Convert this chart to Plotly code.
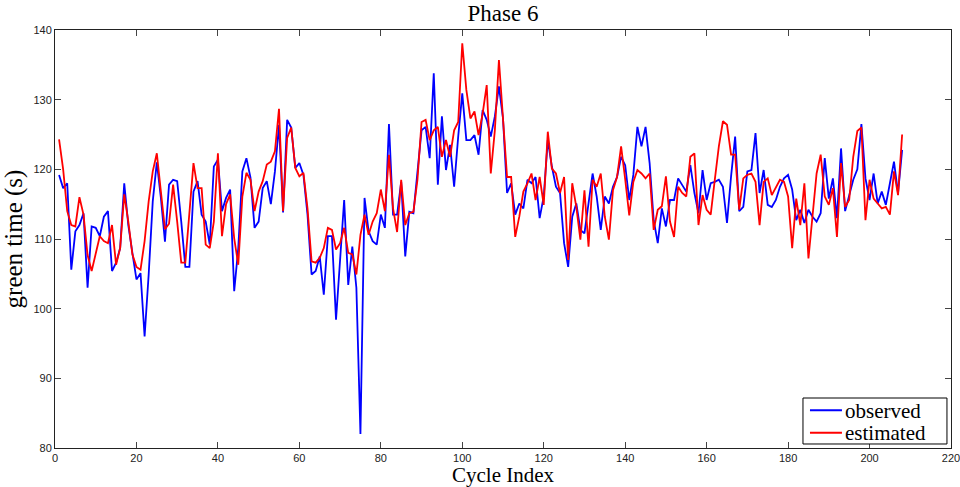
import plotly.graph_objects as go

cycle_index = list(range(1, 209))

observed = [
    119.2, 117.3, 118.0, 105.6, 111.1, 112.0, 113.7, 103.0, 111.8, 111.6,
    110.4, 113.2, 114.0, 105.4, 106.6, 108.7, 118.0, 112.0, 108.0, 104.2,
    105.1, 96.0, 104.9, 115.4, 121.0, 115.9, 109.6, 117.8, 118.5, 118.3,
    112.5, 106.0, 106.0, 116.8, 118.3, 113.5, 112.5, 109.2, 120.4, 121.4,
    114.0, 115.9, 117.1, 102.5, 108.7, 119.7, 121.6, 118.8, 111.6, 112.5,
    117.3, 118.3, 115.0, 119.7, 126.4, 113.8, 127.1, 126.0, 120.2, 120.9,
    119.2, 113.5, 104.9, 105.4, 107.5, 102.0, 110.4, 110.4, 98.4, 107.3,
    115.6, 103.4, 108.9, 103.0, 82.0, 115.9, 111.1, 109.7, 109.2, 113.5,
    111.6, 126.5, 113.5, 113.5, 118.2, 107.5, 113.9, 113.7, 119.9, 125.6,
    126.1, 121.6, 133.8, 117.8, 127.6, 119.9, 123.5, 117.5, 124.7, 130.9,
    124.2, 124.2, 124.9, 122.1, 128.5, 127.1, 124.7, 127.6, 131.9, 127.3,
    116.6, 118.0, 113.5, 115.1, 114.4, 118.5, 118.0, 118.9, 113.0, 116.1,
    124.2, 120.4, 117.5, 116.6, 109.4, 106.0, 113.2, 115.1, 111.3, 110.8,
    115.1, 119.4, 116.1, 111.3, 116.1, 115.1, 117.5, 118.9, 121.8, 120.6,
    115.6, 119.2, 126.1, 123.3, 126.1, 120.9, 112.7, 109.4, 114.4, 111.8,
    115.6, 115.6, 118.7, 117.8, 116.8, 120.6, 116.6, 113.7, 119.9, 115.6,
    118.0, 118.2, 118.5, 117.5, 112.3, 119.0, 124.7, 114.0, 114.6, 119.7,
    119.9, 125.2, 116.6, 119.9, 114.9, 114.6, 115.6, 117.5, 118.7, 119.2,
    117.1, 112.7, 114.2, 112.3, 114.2, 113.2, 112.5, 113.7, 121.6, 115.8,
    118.7, 113.0, 123.0, 114.0, 116.1, 118.5, 120.0, 126.5, 118.7, 115.6,
    119.4, 115.1, 116.8, 114.9, 118.0, 121.1, 116.6, 122.8,
]

estimated = [
    124.3, 120.0, 114.0, 112.0, 111.8, 116.0, 113.5, 107.7, 105.4, 108.0,
    110.4, 109.7, 109.4, 112.0, 106.3, 108.7, 116.4, 112.5, 107.8, 106.0,
    105.6, 109.7, 115.4, 119.7, 122.3, 116.8, 111.4, 112.2, 117.8, 112.5,
    106.6, 106.6, 113.5, 120.9, 117.3, 117.3, 109.2, 108.7, 112.5, 122.3,
    110.4, 115.0, 116.4, 110.1, 106.3, 116.1, 119.5, 118.5, 114.0, 116.8,
    118.3, 120.7, 121.1, 122.6, 128.7, 114.0, 124.5, 126.0, 120.2, 119.0,
    119.5, 114.4, 106.8, 106.6, 107.3, 108.7, 111.6, 111.3, 108.5, 109.4,
    111.6, 108.0, 107.8, 104.9, 110.6, 113.5, 110.6, 112.5, 113.7, 117.1,
    114.0, 122.1, 114.4, 111.0, 118.5, 112.0, 113.7, 113.9, 118.5, 126.8,
    127.1, 124.2, 125.6, 126.1, 121.8, 124.2, 121.8, 125.6, 126.8, 138.1,
    131.4, 127.3, 128.3, 124.9, 128.0, 132.1, 119.4, 125.6, 135.7, 127.8,
    118.9, 118.9, 110.3, 113.2, 116.8, 118.0, 119.4, 115.6, 118.9, 114.9,
    125.4, 120.1, 119.4, 116.6, 118.9, 107.0, 118.0, 114.6, 109.9, 117.0,
    108.9, 118.5, 117.5, 119.4, 113.2, 109.9, 117.0, 118.9, 123.3, 118.6,
    113.4, 118.2, 119.9, 119.4, 118.7, 119.4, 111.3, 114.2, 114.7, 119.0,
    112.5, 110.3, 117.5, 116.6, 116.1, 121.8, 122.3, 112.0, 116.3, 114.2,
    113.5, 118.5, 123.3, 126.9, 126.4, 122.1, 122.1, 114.2, 118.7, 119.2,
    119.4, 118.2, 112.0, 118.2, 118.7, 116.3, 117.5, 118.5, 118.2, 116.1,
    108.7, 115.8, 112.0, 118.0, 107.2, 113.7, 119.4, 122.1, 116.1, 114.9,
    117.3, 110.3, 120.9, 114.6, 115.6, 121.8, 125.5, 126.0, 112.7, 118.5,
    115.8, 115.1, 114.4, 114.6, 113.5, 119.7, 116.3, 125.0,
]

series_names = ["observed", "estimated"]
series_colors = ["#0000ff", "#ff0000"]

x_ticks = [0, 20, 40, 60, 80, 100, 120, 140, 160, 180, 200, 220]
y_ticks = [80, 90, 100, 110, 120, 130, 140]

serif = "Liberation Serif, Times New Roman, serif"
sans = "Liberation Sans, Arial, sans-serif"

fig = go.Figure()
for name, vals, col in zip(series_names, [observed, estimated], series_colors):
    fig.add_trace(go.Scatter(x=cycle_index, y=vals, mode="lines", name=name,
                             line=dict(color=col, width=1.8), showlegend=False))

# MATLAB-style legend box (bottom right, inside axes), drawn in paper coords
lg_x0, lg_x1, lg_y0, lg_y1 = 0.8348, 0.9955, 0.0096, 0.1196
line_x0, line_x1, text_x = 0.8426, 0.8783, 0.8805
row_y = [0.0905, 0.0365]
fig.add_shape(type="rect", xref="paper", yref="paper", x0=lg_x0, x1=lg_x1,
              y0=lg_y0, y1=lg_y1, fillcolor="white", line=dict(color="black", width=1),
              layer="above")
for name, col, ry in zip(series_names, series_colors, row_y):
    fig.add_shape(type="line", xref="paper", yref="paper", x0=line_x0, x1=line_x1,
                  y0=ry, y1=ry, line=dict(color=col, width=2), layer="above")
    fig.add_annotation(xref="paper", yref="paper", x=text_x, y=ry, xanchor="left",
                       yanchor="middle", text=name, showarrow=False,
                       height=19, valign="middle", borderpad=0,
                       font=dict(family=serif, size=21, color="black"))

fig.update_layout(
    template="none",
    width=960, height=487,
    margin=dict(l=55, r=9, t=30, b=39, autoexpand=False),
    paper_bgcolor="white", plot_bgcolor="white",
    title=dict(text="Phase 6", x=0.524, xanchor="center", y=0.973, yanchor="middle",
               font=dict(family=serif, size=23, color="black")),
    showlegend=False,
)
fig.update_xaxes(range=[0, 220], tickvals=x_ticks, ticks="inside", ticklen=6,
                 mirror="ticks", showline=True, linecolor="#222", linewidth=1,
                 showgrid=False, zeroline=False, automargin=False,
                 ticklabeloverflow="allow",
                 tickfont=dict(family=sans, size=11, color="#222"),
                 title=dict(text="Cycle Index", standoff=9,
                            font=dict(family=serif, size=21, color="black")))
fig.update_yaxes(range=[80, 140], tickvals=y_ticks, ticks="inside", ticklen=6,
                 mirror="ticks", showline=True, linecolor="#222", linewidth=1,
                 showgrid=False, zeroline=False, automargin=False,
                 ticklabeloverflow="allow",
                 tickfont=dict(family=sans, size=11, color="#222"),
                 title=dict(text="green time (s)", standoff=5,
                            font=dict(family=serif, size=25, color="black")))

fig.write_html("out.html", config={"displayModeBar": False},
               post_script="document.body.style.margin='0';")
